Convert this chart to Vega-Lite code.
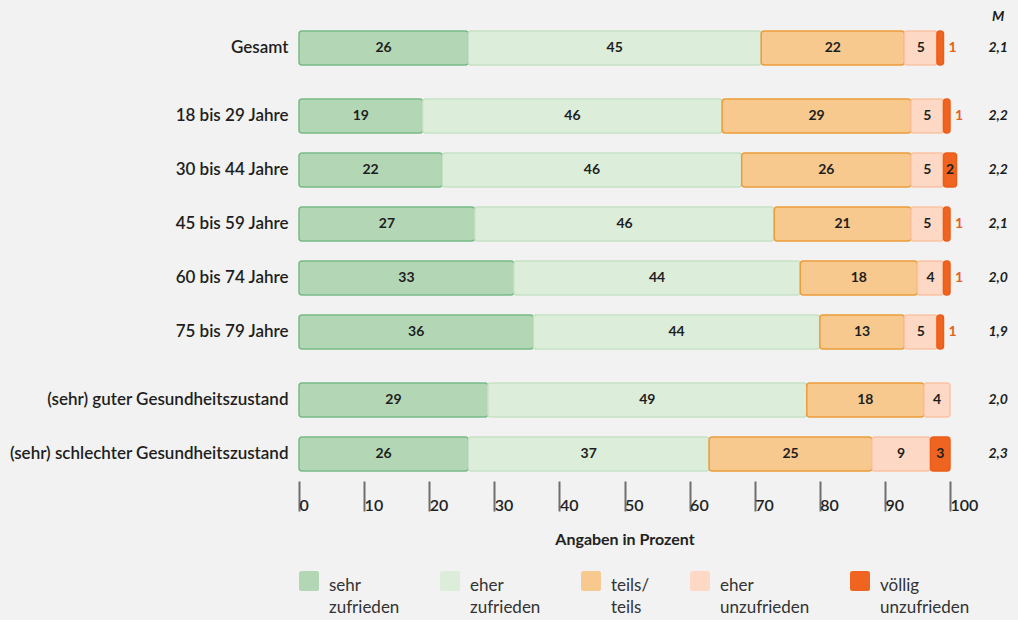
{
  "$schema": "https://vega.github.io/schema/vega-lite/v6.json",
  "background": "#f1f2f1",
  "padding": {"left": 9, "top": 10, "right": 10, "bottom": 4},
  "config": {
    "font": "Lato",
    "view": {"stroke": null},
    "legend": {"labelFont": "Lato"}
  },
  "datasets": {
    "bars": [
      {"p": 1, "label": "Gesamt", "cat": "sehr zufrieden", "k": 1, "v": 26},
      {"p": 1, "label": "Gesamt", "cat": "eher zufrieden", "k": 2, "v": 45},
      {"p": 1, "label": "Gesamt", "cat": "teils/teils", "k": 3, "v": 22},
      {"p": 1, "label": "Gesamt", "cat": "eher unzufrieden", "k": 4, "v": 5},
      {"p": 1, "label": "Gesamt", "cat": "völlig unzufrieden", "k": 5, "v": 1},
      {"p": 2, "label": "18 bis 29 Jahre", "cat": "sehr zufrieden", "k": 1, "v": 19},
      {"p": 2, "label": "18 bis 29 Jahre", "cat": "eher zufrieden", "k": 2, "v": 46},
      {"p": 2, "label": "18 bis 29 Jahre", "cat": "teils/teils", "k": 3, "v": 29},
      {"p": 2, "label": "18 bis 29 Jahre", "cat": "eher unzufrieden", "k": 4, "v": 5},
      {"p": 2, "label": "18 bis 29 Jahre", "cat": "völlig unzufrieden", "k": 5, "v": 1},
      {"p": 2, "label": "30 bis 44 Jahre", "cat": "sehr zufrieden", "k": 1, "v": 22},
      {"p": 2, "label": "30 bis 44 Jahre", "cat": "eher zufrieden", "k": 2, "v": 46},
      {"p": 2, "label": "30 bis 44 Jahre", "cat": "teils/teils", "k": 3, "v": 26},
      {"p": 2, "label": "30 bis 44 Jahre", "cat": "eher unzufrieden", "k": 4, "v": 5},
      {"p": 2, "label": "30 bis 44 Jahre", "cat": "völlig unzufrieden", "k": 5, "v": 2},
      {"p": 2, "label": "45 bis 59 Jahre", "cat": "sehr zufrieden", "k": 1, "v": 27},
      {"p": 2, "label": "45 bis 59 Jahre", "cat": "eher zufrieden", "k": 2, "v": 46},
      {"p": 2, "label": "45 bis 59 Jahre", "cat": "teils/teils", "k": 3, "v": 21},
      {"p": 2, "label": "45 bis 59 Jahre", "cat": "eher unzufrieden", "k": 4, "v": 5},
      {"p": 2, "label": "45 bis 59 Jahre", "cat": "völlig unzufrieden", "k": 5, "v": 1},
      {"p": 2, "label": "60 bis 74 Jahre", "cat": "sehr zufrieden", "k": 1, "v": 33},
      {"p": 2, "label": "60 bis 74 Jahre", "cat": "eher zufrieden", "k": 2, "v": 44},
      {"p": 2, "label": "60 bis 74 Jahre", "cat": "teils/teils", "k": 3, "v": 18},
      {"p": 2, "label": "60 bis 74 Jahre", "cat": "eher unzufrieden", "k": 4, "v": 4},
      {"p": 2, "label": "60 bis 74 Jahre", "cat": "völlig unzufrieden", "k": 5, "v": 1},
      {"p": 2, "label": "75 bis 79 Jahre", "cat": "sehr zufrieden", "k": 1, "v": 36},
      {"p": 2, "label": "75 bis 79 Jahre", "cat": "eher zufrieden", "k": 2, "v": 44},
      {"p": 2, "label": "75 bis 79 Jahre", "cat": "teils/teils", "k": 3, "v": 13},
      {"p": 2, "label": "75 bis 79 Jahre", "cat": "eher unzufrieden", "k": 4, "v": 5},
      {"p": 2, "label": "75 bis 79 Jahre", "cat": "völlig unzufrieden", "k": 5, "v": 1},
      {"p": 3, "label": "(sehr) guter Gesundheitszustand", "cat": "sehr zufrieden", "k": 1, "v": 29},
      {"p": 3, "label": "(sehr) guter Gesundheitszustand", "cat": "eher zufrieden", "k": 2, "v": 49},
      {"p": 3, "label": "(sehr) guter Gesundheitszustand", "cat": "teils/teils", "k": 3, "v": 18},
      {"p": 3, "label": "(sehr) guter Gesundheitszustand", "cat": "eher unzufrieden", "k": 4, "v": 4},
      {"p": 3, "label": "(sehr) schlechter Gesundheitszustand", "cat": "sehr zufrieden", "k": 1, "v": 26},
      {"p": 3, "label": "(sehr) schlechter Gesundheitszustand", "cat": "eher zufrieden", "k": 2, "v": 37},
      {"p": 3, "label": "(sehr) schlechter Gesundheitszustand", "cat": "teils/teils", "k": 3, "v": 25},
      {"p": 3, "label": "(sehr) schlechter Gesundheitszustand", "cat": "eher unzufrieden", "k": 4, "v": 9},
      {"p": 3, "label": "(sehr) schlechter Gesundheitszustand", "cat": "völlig unzufrieden", "k": 5, "v": 3}
    ],
    "m": [
      {"p": 1, "label": "Gesamt", "m": "2,1"},
      {"p": 2, "label": "18 bis 29 Jahre", "m": "2,2"},
      {"p": 2, "label": "30 bis 44 Jahre", "m": "2,2"},
      {"p": 2, "label": "45 bis 59 Jahre", "m": "2,1"},
      {"p": 2, "label": "60 bis 74 Jahre", "m": "2,0"},
      {"p": 2, "label": "75 bis 79 Jahre", "m": "1,9"},
      {"p": 3, "label": "(sehr) guter Gesundheitszustand", "m": "2,0"},
      {"p": 3, "label": "(sehr) schlechter Gesundheitszustand", "m": "2,3"}
    ]
  },
  "spacing": 14,
  "resolve": {"scale": {"color": "shared", "stroke": "shared"}},
  "vconcat": [
    {
      "width": 651,
      "height": 54,
      "layer": [
        {
          "data": {"name": "bars"},
          "transform": [
            {"filter": "datum.p == 1"},
            {"stack": "v", "groupby": ["label"], "sort": [{"field": "k", "order": "ascending"}], "as": ["x0", "x1"]}
          ],
          "mark": {"type": "bar", "cornerRadius": 3, "strokeWidth": 1.5},
          "encoding": {
            "y": {"field": "label", "type": "nominal", "scale": {"domain": ["Gesamt"], "paddingInner": 0.37, "paddingOuter": 0.185},
              "axis": {"title": null, "domain": false, "ticks": false, "labelFontSize": 17, "labelFontWeight": 600, "labelColor": "#1e1e1e", "labelPadding": 11, "labelLimit": 400}},
            "x": {"field": "x0", "type": "quantitative", "scale": {"domain": [0, 100]}, "axis": null},
            "x2": {"field": "x1"},
            "color": {"field": "cat", "type": "nominal",
              "scale": {"domain": ["sehr zufrieden", "eher zufrieden", "teils/teils", "eher unzufrieden", "völlig unzufrieden"],
                "range": ["#b3d6b5", "#dcedda", "#f7c98f", "#fdd9c5", "#ef6420"]},
              "legend": {"title": null, "orient": "bottom", "direction": "horizontal", "columns": 5,
                "symbolType": "M -0.75 -1 H 0.75 Q 1 -1 1 -0.75 V 0.75 Q 1 1 0.75 1 H -0.75 Q -1 1 -1 0.75 V -0.75 Q -1 -1 -0.75 -1 Z",
                "symbolSize": 400, "symbolStrokeWidth": 0, "symbolOpacity": 1,
                "labelFontSize": 17, "labelColor": "#333333", "labelBaseline": "top", "labelOffset": 10,
                "columnPadding": 40, "labelLimit": 200, "offset": 24,
                "labelExpr": "datum.label == 'teils/teils' ? ['teils/', 'teils'] : split(datum.label, ' ')",
                "encode": {
                  "labels": {"update": {"dy": {"value": -3}, "lineHeight": {"value": 22}}}
                }}},
            "stroke": {"field": "cat", "type": "nominal",
              "scale": {"domain": ["sehr zufrieden", "eher zufrieden", "teils/teils", "eher unzufrieden", "völlig unzufrieden"],
                "range": ["#78ba88", "#c6e1c5", "#eb9d3a", "#fcc2a2", "#ec5d1a"]},
              "legend": null}
          }
        },
        {
          "data": {"name": "bars"},
          "transform": [
            {"filter": "datum.p == 1"},
            {"stack": "v", "groupby": ["label"], "sort": [{"field": "k", "order": "ascending"}], "as": ["x0", "x1"]},
            {"filter": "datum.v >= 2"},
            {"calculate": "(datum.x0 + datum.x1) / 2", "as": "xm"}
          ],
          "mark": {"type": "text", "fontSize": 14, "fontWeight": "bold", "color": "#1e1e1e"},
          "encoding": {
            "y": {"field": "label", "type": "nominal"},
            "x": {"field": "xm", "type": "quantitative"},
            "text": {"field": "v", "type": "quantitative"}
          }
        },
        {
          "data": {"name": "bars"},
          "transform": [
            {"filter": "datum.p == 1"},
            {"stack": "v", "groupby": ["label"], "sort": [{"field": "k", "order": "ascending"}], "as": ["x0", "x1"]},
            {"filter": "datum.v > 0 && datum.v < 2"}
          ],
          "mark": {"type": "text", "fontSize": 14, "fontWeight": "bold", "color": "#e8601c", "align": "left", "dx": 5},
          "encoding": {
            "y": {"field": "label", "type": "nominal"},
            "x": {"field": "x1", "type": "quantitative"},
            "text": {"field": "v", "type": "quantitative"}
          }
        },
        {
          "data": {"name": "m"},
          "transform": [{"filter": "datum.p == 1"}],
          "mark": {"type": "text", "fontSize": 14, "fontWeight": "bold", "fontStyle": "italic", "color": "#1e1e1e"},
          "encoding": {
            "y": {"field": "label", "type": "nominal"},
            "x": {"datum": 107.4},
            "text": {"field": "m"}
          }
        },
        {
          "data": {"values": [{"t": "M"}]},
          "mark": {"type": "text", "fontSize": 14, "fontWeight": "bold", "fontStyle": "italic", "color": "#1e1e1e", "dy": -31},
          "encoding": {
            "y": {"datum": "Gesamt"},
            "x": {"datum": 107.4},
            "text": {"field": "t"}
          }
        }
      ]
    },
    {
      "width": 651,
      "height": 270,
      "layer": [
        {
          "data": {"name": "bars"},
          "transform": [
            {"filter": "datum.p == 2"},
            {"stack": "v", "groupby": ["label"], "sort": [{"field": "k", "order": "ascending"}], "as": ["x0", "x1"]}
          ],
          "mark": {"type": "bar", "cornerRadius": 3, "strokeWidth": 1.5},
          "encoding": {
            "y": {"field": "label", "type": "nominal", "scale": {"domain": ["18 bis 29 Jahre", "30 bis 44 Jahre", "45 bis 59 Jahre", "60 bis 74 Jahre", "75 bis 79 Jahre"], "paddingInner": 0.37, "paddingOuter": 0.185},
              "axis": {"title": null, "domain": false, "ticks": false, "labelFontSize": 17, "labelFontWeight": 600, "labelColor": "#1e1e1e", "labelPadding": 11, "labelLimit": 400}},
            "x": {"field": "x0", "type": "quantitative", "scale": {"domain": [0, 100]}, "axis": null},
            "x2": {"field": "x1"},
            "color": {"field": "cat", "type": "nominal"},
            "stroke": {"field": "cat", "type": "nominal", "legend": null}
          }
        },
        {
          "data": {"name": "bars"},
          "transform": [
            {"filter": "datum.p == 2"},
            {"stack": "v", "groupby": ["label"], "sort": [{"field": "k", "order": "ascending"}], "as": ["x0", "x1"]},
            {"filter": "datum.v >= 2"},
            {"calculate": "(datum.x0 + datum.x1) / 2", "as": "xm"}
          ],
          "mark": {"type": "text", "fontSize": 14, "fontWeight": "bold", "color": "#1e1e1e"},
          "encoding": {
            "y": {"field": "label", "type": "nominal"},
            "x": {"field": "xm", "type": "quantitative"},
            "text": {"field": "v", "type": "quantitative"}
          }
        },
        {
          "data": {"name": "bars"},
          "transform": [
            {"filter": "datum.p == 2"},
            {"stack": "v", "groupby": ["label"], "sort": [{"field": "k", "order": "ascending"}], "as": ["x0", "x1"]},
            {"filter": "datum.v > 0 && datum.v < 2"}
          ],
          "mark": {"type": "text", "fontSize": 14, "fontWeight": "bold", "color": "#e8601c", "align": "left", "dx": 5},
          "encoding": {
            "y": {"field": "label", "type": "nominal"},
            "x": {"field": "x1", "type": "quantitative"},
            "text": {"field": "v", "type": "quantitative"}
          }
        },
        {
          "data": {"name": "m"},
          "transform": [{"filter": "datum.p == 2"}],
          "mark": {"type": "text", "fontSize": 14, "fontWeight": "bold", "fontStyle": "italic", "color": "#1e1e1e"},
          "encoding": {
            "y": {"field": "label", "type": "nominal"},
            "x": {"datum": 107.4},
            "text": {"field": "m"}
          }
        }
      ]
    },
    {
      "width": 651,
      "height": 108,
      "layer": [
        {
          "data": {"name": "bars"},
          "transform": [
            {"filter": "datum.p == 3"},
            {"stack": "v", "groupby": ["label"], "sort": [{"field": "k", "order": "ascending"}], "as": ["x0", "x1"]}
          ],
          "mark": {"type": "bar", "cornerRadius": 3, "strokeWidth": 1.5},
          "encoding": {
            "y": {"field": "label", "type": "nominal", "scale": {"domain": ["(sehr) guter Gesundheitszustand", "(sehr) schlechter Gesundheitszustand"], "paddingInner": 0.37, "paddingOuter": 0.185},
              "axis": {"title": null, "domain": false, "ticks": false, "labelFontSize": 17, "labelFontWeight": 600, "labelColor": "#1e1e1e", "labelPadding": 11, "labelLimit": 400}},
            "x": {"field": "x0", "type": "quantitative", "scale": {"domain": [0, 100]},
              "axis": {"title": "Angaben in Prozent", "values": [0, 10, 20, 30, 40, 50, 60, 70, 80, 90, 100], "domain": false, "grid": false,
                "tickSize": 30, "tickWidth": 2, "tickColor": "#6e6e6e", "labelAlign": "left", "labelBaseline": "top", "labelDx": 3, "labelPadding": -14,
                "labelFlush": false, "labelFontSize": 16, "labelFontWeight": 600, "labelColor": "#222222", "labelOverlap": false,
                "titleFontSize": 16, "titleFontWeight": "bold", "titleColor": "#222222", "titlePadding": 18}},
            "x2": {"field": "x1"},
            "color": {"field": "cat", "type": "nominal"},
            "stroke": {"field": "cat", "type": "nominal", "legend": null}
          }
        },
        {
          "data": {"name": "bars"},
          "transform": [
            {"filter": "datum.p == 3"},
            {"stack": "v", "groupby": ["label"], "sort": [{"field": "k", "order": "ascending"}], "as": ["x0", "x1"]},
            {"filter": "datum.v >= 2"},
            {"calculate": "(datum.x0 + datum.x1) / 2", "as": "xm"}
          ],
          "mark": {"type": "text", "fontSize": 14, "fontWeight": "bold", "color": "#1e1e1e"},
          "encoding": {
            "y": {"field": "label", "type": "nominal"},
            "x": {"field": "xm", "type": "quantitative"},
            "text": {"field": "v", "type": "quantitative"}
          }
        },
        {
          "data": {"name": "m"},
          "transform": [{"filter": "datum.p == 3"}],
          "mark": {"type": "text", "fontSize": 14, "fontWeight": "bold", "fontStyle": "italic", "color": "#1e1e1e"},
          "encoding": {
            "y": {"field": "label", "type": "nominal"},
            "x": {"datum": 107.4},
            "text": {"field": "m"}
          }
        }
      ]
    }
  ]
}
